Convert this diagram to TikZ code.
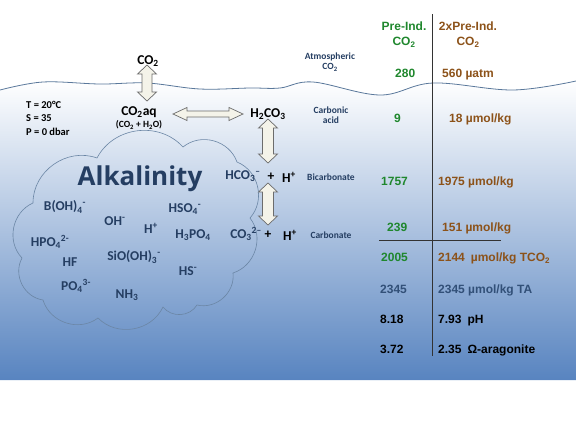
\documentclass[tikz,border=0pt]{standalone}
\usepackage{fontspec}
\setmainfont{Carlito}
\newfontfamily\tabfont{Liberation Sans}
\newfontfamily\alkfont{Open Sans}
\usetikzlibrary{calc}
\definecolor{pregreen}{RGB}{31,135,45}
\definecolor{dblbrown}{RGB}{140,82,25}
\definecolor{chemblue}{RGB}{37,62,98}
\definecolor{taslate}{RGB}{50,80,120}
\definecolor{seablue}{RGB}{88,132,192}
\definecolor{wavegray}{RGB}{90,120,155}
\definecolor{arrowfill}{RGB}{244,243,233}
\newcommand\subs[1]{\textsubscript{#1}}
\newcommand\sups[1]{\textsuperscript{#1}}
\newcommand\gap{\hspace{6pt}}
% hollow double arrow: from, to, head length, head half width, shaft half width
\newcommand\fatarrow[5]{%
  \path (#1) coordinate (fa) (#2) coordinate (fb)
    ($(fa)!#3!(fb)$) coordinate (fa1) ($(fb)!#3!(fa)$) coordinate (fb1);
  \draw[fat] (fa) -- ($(fa1)!#4!90:(fb)$) -- ($(fa1)!#5!90:(fb)$)
    -- ($(fb1)!#5!-90:(fa)$) -- ($(fb1)!#4!-90:(fa)$) -- (fb)
    -- ($(fb1)!#4!90:(fa)$) -- ($(fb1)!#5!90:(fa)$)
    -- ($(fa1)!#5!-90:(fb)$) -- ($(fa1)!#4!-90:(fb)$) -- cycle;}

\begin{document}
\begin{tikzpicture}[x=1pt,y=-1pt,
  chem/.style={font=\fontsize{13.5}{15}\selectfont\bfseries,inner sep=1pt},
  ion/.style={chem,text=chemblue},
  tag/.style={font=\fontsize{9.5}{10.5}\selectfont\bfseries,text=chemblue,align=center,inner sep=1pt},
  head/.style={font=\tabfont\fontsize{12}{15}\selectfont\bfseries,align=center,inner sep=0pt},
  cell/.style={font=\tabfont\fontsize{12}{14}\selectfont\bfseries,anchor=west,inner sep=0pt,text height=8.6pt,text depth=0pt},
  fat/.style={draw=gray!85!black,fill=arrowfill,line width=0.7pt,line join=miter},
  rule/.style={draw=black!80,line width=0.9pt},
  puff/.style={bend left=55,looseness=1.05}]
\useasboundingbox (0,0) rectangle (576,432);

\shade[top color=white,bottom color=seablue] (0,380) -- plot[smooth,tension=0.6] coordinates {(0,90) (43,82) (100,84) (147,83) (200,89) (250,88) (280,88) (313,82) (380,95) (433,83) (513,90) (576,81)} -- (576,380) -- cycle;
\draw[wavegray,line width=0.8pt] plot[smooth,tension=0.6] coordinates {(0,90) (43,82) (100,84) (147,83) (200,89) (250,88) (280,88) (313,82) (380,95) (433,83) (513,90) (576,81)};

\draw[wavegray!90,line width=0.6pt] (33,203) to[puff] (97,158) to[puff] (183,147) to[puff] (237,162)
  to[puff] (250,218) to[puff] (233,273) to[puff] (197,305) to[puff] (163,307) to[puff] (98,318)
  to[puff] (43,300) to[puff] (22,258) to[puff] (33,203);

\node[chem,font=\fontsize{10.5}{13.5}\selectfont\bfseries,align=left,anchor=north west] (cond) at (25,100) {T = 20°C\\S = 35\\P = 0 dbar};

\node[chem] (co2) at (148,61) {CO\subs{2}};
\node[chem] (co2aq) at (139,112) {CO\subs{2}aq};
\node[chem,font=\fontsize{9.5}{11}\selectfont\bfseries] (mix) at (139,125) {(CO\subs{2} + H\subs{2}O)};
\node[chem] (h2co3) at (268,114) {H\subs{2}CO\subs{3}};
\node[ion] (hco3) at (243,176) {HCO\subs{3}\sups{–}};
\node[chem] (plusa) at (271,177) {+};
\node[chem] (hpa) at (289,177) {H\sups{+}};
\node[ion] (co3) at (246,234) {CO\subs{3}\sups{2–}};
\node[chem] (plusb) at (268,235) {+};
\node[chem] (hpb) at (290,235) {H\sups{+}};

\node[tag] (atm) at (330,62) {Atmospheric\\CO\subs{2}};
\node[tag] (carb) at (331,115) {Carbonic\\acid};
\node[tag] (bic) at (331,177) {Bicarbonate};
\node[tag] (cbn) at (331,235) {Carbonate};

\fatarrow{$(co2)+(-1,4)$}{$(co2 |- co2aq)+(-1,-11)$}{9pt}{9.5pt}{5pt}
\fatarrow{$(co2aq)+(34,2)$}{$(h2co3)+(-25,0)$}{14pt}{6.5pt}{3pt}
\fatarrow{$(h2co3)+(0,5)$}{$(h2co3 |- plusa)+(0,-14)$}{9pt}{9.5pt}{5.5pt}
\fatarrow{$(h2co3 |- plusa)+(0,6)$}{$(h2co3 |- plusb)+(0,-10)$}{9pt}{9.5pt}{5.5pt}

\node[text=chemblue,font=\alkfont\fontsize{26}{30}\selectfont\bfseries,inner sep=0pt] (alk) at (140,179) {Alkalinity};
\node[ion] (boh) at (65,207) {B(OH)\subs{4}\sups{-}};
\node[ion] (oh) at (115,221) {OH\sups{-}};
\node[ion] (hp) at (151,228) {H\sups{+}};
\node[ion] (hso) at (185,209) {HSO\subs{4}\sups{-}};
\node[ion] (hpo) at (193,235) {H\subs{3}PO\subs{4}};
\node[ion] (hpof) at (50,242) {HPO\subs{4}\sups{2-}};
\node[ion] (hf) at (70,262) {HF};
\node[ion] (sio) at (134,257) {SiO(OH)\subs{3}\sups{-}};
\node[ion] (hs) at (188,271) {HS\sups{-}};
\node[ion] (po) at (76,286) {PO\subs{4}\sups{3-}};
\node[ion] (nh) at (127,295) {NH\subs{3}};

\draw[rule] (432,14) -- (432,356);
\draw[rule] (379,240) -- (501,240);
\node[head,text=pregreen] (hdpre) at (404,35) {Pre-Ind.\\CO\subs{2}};
\node[head,text=dblbrown] (hddbl) at (468,35) {2xPre-Ind.\\CO\subs{2}};
\node[cell,text=pregreen] (pa) at (395,73) {280};
\node[cell,text=dblbrown] (da) at (442,73) {560 µatm};
\node[cell,text=pregreen] (pb) at (394,118) {9};
\node[cell,text=dblbrown] (db) at (449,118) {18 µmol/kg};
\node[cell,text=pregreen] (pc) at (381,181) {1757};
\node[cell,text=dblbrown] (dc) at (438,181) {1975 µmol/kg};
\node[cell,text=pregreen] (pd) at (387,227) {239};
\node[cell,text=dblbrown] (dd) at (442,227) {151 µmol/kg};
\node[cell,text=pregreen] (pe) at (381,257) {2005};
\node[cell,text=dblbrown] (de) at (438,257) {2144\gap µmol/kg TCO\subs{2}};
\node[cell,text=taslate] (pf) at (380,289) {2345};
\node[cell,text=taslate] (df) at (438,289) {2345 µmol/kg TA};
\node[cell] (pg) at (380,319) {8.18};
\node[cell] (dg) at (438,319) {7.93\gap pH};
\node[cell] (ph) at (380,349) {3.72};
\node[cell] (dh) at (438,349) {2.35\gap Ω-aragonite};
\end{tikzpicture}
\end{document}
